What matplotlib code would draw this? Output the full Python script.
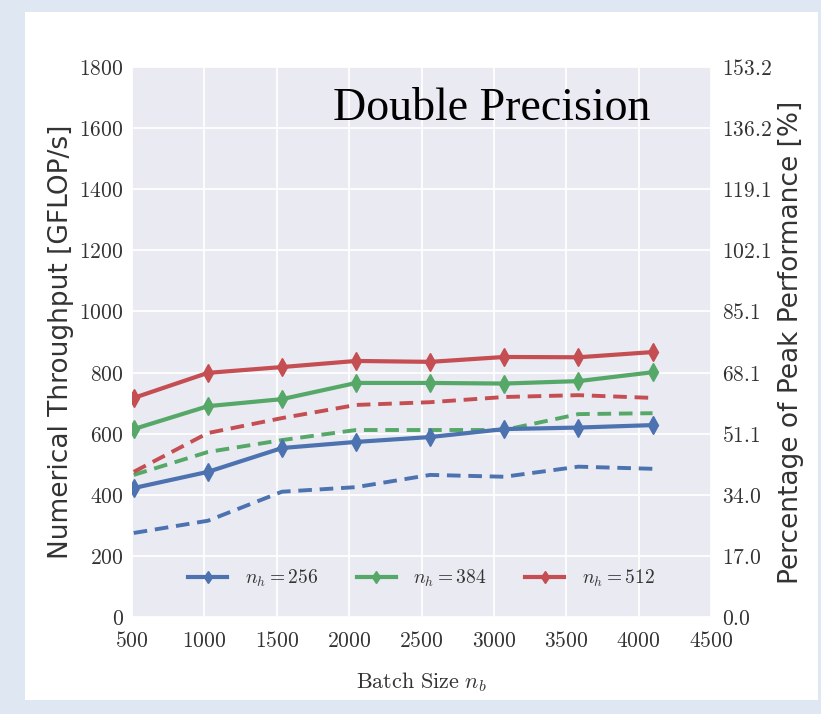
import matplotlib
matplotlib.use("Agg")
import matplotlib.pyplot as plt
from matplotlib.patches import Rectangle
from matplotlib.ticker import FixedLocator, FuncFormatter

# Batch sizes and measured throughput (GFLOP/s), double precision
batch_sizes = [512, 1024, 1536, 2048, 2560, 3072, 3584, 4096]
hidden_labels = [r"$n_h=256$", r"$n_h=384$", r"$n_h=512$"]

solid_256 = [422, 475, 553, 573, 589, 615, 620, 628]
solid_384 = [615, 690, 713, 766, 766, 764, 772, 801]
solid_512 = [717, 799, 818, 838, 835, 851, 850, 867]

dashed_256 = [275, 315, 410, 425, 465, 459, 492, 485]
dashed_384 = [465, 540, 579, 612, 612, 612, 664, 667]
dashed_512 = [475, 602, 651, 694, 703, 720, 726, 717]

PEAK_GFLOPS = 1175.0
y_ticks = [0, 200, 400, 600, 800, 1000, 1200, 1400, 1600, 1800]
x_ticks = [500, 1000, 1500, 2000, 2500, 3000, 3500, 4000, 4500]

colors = ["#4C72B0", "#55A868", "#C44E52"]

plt.rcParams["mathtext.fontset"] = "cm"
plt.rcParams["font.family"] = ["DejaVu Sans"]

fig = plt.figure(figsize=(8.21, 7.14), dpi=100)
fig.patch.set_facecolor("#dfe7f2")
# white card behind the chart
fig.patches.append(Rectangle((25 / 821, 1 - 700 / 714), (818 - 25) / 821, (700 - 12) / 714,
                             transform=fig.transFigure, facecolor="white",
                             edgecolor="none", zorder=-10))

ax = fig.add_axes([132 / 821, 1 - 617 / 714, (711 - 132) / 821, (617 - 67) / 714])
ax.set_facecolor("#EAEAF2")
for s in ax.spines.values():
    s.set_visible(False)
ax.set_axisbelow(True)
ax.grid(True, color="white", linewidth=1.3)

ax.set_xlim(500, 4500)
ax.set_ylim(0, 1800)
ax.xaxis.set_major_locator(FixedLocator(x_ticks))
ax.yaxis.set_major_locator(FixedLocator(y_ticks))
mathfmt = FuncFormatter(lambda v, p: r"$%d$" % v)
ax.xaxis.set_major_formatter(mathfmt)
ax.yaxis.set_major_formatter(mathfmt)
ax.tick_params(length=0, labelsize=15.5, colors="#333333")
ax.tick_params(axis="x", pad=10)
ax.tick_params(axis="y", pad=6)

solids = [solid_256, solid_384, solid_512]
dashes = [dashed_256, dashed_384, dashed_512]
for vals, col, lab in zip(solids, colors, hidden_labels):
    ax.plot(batch_sizes, vals, color=col, lw=3.0, marker="d", markersize=9,
            label=lab, zorder=3)
for vals, col in zip(dashes, colors):
    ax.plot(batch_sizes, vals, color=col, lw=2.8, linestyle=(0, (3.5, 2)), zorder=2)

ax.set_ylabel("Numerical Throughput [GFLOP/s]", fontsize=19, color="#333333", labelpad=4)
ax.set_xlabel(r"$\mathrm{Batch\ Size}\ n_b$", fontsize=16, color="#333333", labelpad=14)

ax.text(0.347, 0.904, "Double Precision", transform=ax.transAxes,
        fontsize=33, family="Liberation Serif", va="baseline", ha="left", color="black")

leg = ax.legend(loc="lower center", bbox_to_anchor=(0.5, 0.019), ncol=3, frameon=False,
                fontsize=14, handlelength=2.0, handletextpad=0.9, columnspacing=2.0,
                markerscale=0.7)
for t in leg.get_texts():
    t.set_color("#333333")

# secondary axis: fraction of peak double-precision performance
ax2 = ax.twinx()
ax2.set_ylim(ax.get_ylim())
for s in ax2.spines.values():
    s.set_visible(False)
ax2.yaxis.set_major_locator(FixedLocator(y_ticks))
ax2.yaxis.set_major_formatter(FuncFormatter(lambda v, p: r"$%.1f$" % (v / PEAK_GFLOPS * 100)))
ax2.tick_params(length=0, labelsize=15.5, colors="#333333", pad=8)
ax2.set_ylabel("Percentage of Peak Performance [%]", fontsize=19, color="#333333", labelpad=4)

fig.savefig("out.png", dpi=100, facecolor=fig.get_facecolor())
